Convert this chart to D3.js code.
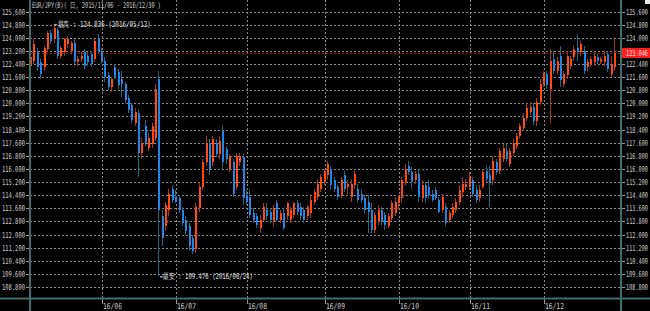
<!DOCTYPE html>
<html>
<head>
<meta charset="utf-8">
<script src="https://cdn.jsdelivr.net/npm/d3@7"></script>
<style>
    html, body { margin: 0; padding: 0; background: #000; }
    svg { display: block; }
    text { font-family: "DejaVu Sans Mono", monospace; font-size: 8px; fill: #cfcfcf; }
</style>
</head>
<body>
<div id="chart"></div>
<script>
// data (EUR/JPY daily, 2016/05/03 - 2016/12/30)
var dates = [
    "05/03","05/04","05/05","05/06","05/09","05/10","05/11","05/12","05/13","05/16","05/17","05/18","05/19","05/20","05/23","05/24","05/25","05/26","05/27","05/30","05/31",
    "06/01","06/02","06/03","06/06","06/07","06/08","06/09","06/10","06/13","06/14","06/15","06/16","06/17","06/20","06/21","06/22","06/23","06/24","06/27","06/28","06/29","06/30",
    "07/01","07/04","07/05","07/06","07/07","07/08","07/11","07/12","07/13","07/14","07/15","07/18","07/19","07/20","07/21","07/22","07/25","07/26","07/27","07/28","07/29",
    "08/01","08/02","08/03","08/04","08/05","08/08","08/09","08/10","08/11","08/12","08/15","08/16","08/17","08/18","08/19","08/22","08/23","08/24","08/25","08/26","08/29","08/30","08/31",
    "09/01","09/02","09/05","09/06","09/07","09/08","09/09","09/12","09/13","09/14","09/15","09/16","09/19","09/20","09/21","09/22","09/23","09/26","09/27","09/28","09/29","09/30",
    "10/03","10/04","10/05","10/06","10/07","10/10","10/11","10/12","10/13","10/14","10/17","10/18","10/19","10/20","10/21","10/24","10/25","10/26","10/27","10/28","10/31",
    "11/01","11/02","11/03","11/04","11/07","11/08","11/09","11/10","11/11","11/14","11/15","11/16","11/17","11/18","11/21","11/22","11/23","11/24","11/25","11/28","11/29","11/30",
    "12/01","12/02","12/05","12/06","12/07","12/08","12/09","12/12","12/13","12/14","12/15","12/16","12/19","12/20","12/21","12/22","12/23","12/26","12/27","12/28","12/29","12/30"
];

var opens = [
    122.3,122.6,123.1,122.5,122.2,123.3,124.3,123.9,124.5,122.9,123.1,123.6,123.2,123.7,122.5,122.7,123.1,122.9,123.0,122.7,124.0,
    123.2,122.6,121.7,121.0,122.2,121.9,121.5,121.2,120.3,119.9,118.8,119.4,117.0,118.6,117.3,117.5,117.9,121.5,113.1,112.5,113.5,114.8,
    114.3,114.2,113.5,112.9,112.5,111.8,111.1,113.6,114.9,116.4,117.5,116.4,117.6,116.9,118.3,117.2,116.0,116.4,114.9,116.4,116.7,
    114.4,114.3,113.3,113.1,112.4,112.9,113.5,113.4,112.8,113.9,112.9,113.3,113.1,112.9,113.2,113.9,113.7,113.5,113.1,113.3,114.0,114.3,114.8,
    115.2,115.6,116.0,115.3,114.9,114.4,115.6,114.9,114.3,115.0,114.8,114.5,114.2,114.0,113.5,112.3,112.8,113.5,113.2,112.5,113.0,113.3,
    113.9,114.2,115.2,116.2,115.8,115.3,115.7,114.2,115.0,114.9,114.5,114.7,114.1,113.5,113.7,112.9,113.2,113.5,114.0,114.6,114.9,
    114.9,115.3,114.7,114.2,114.9,115.9,115.6,115.3,116.4,115.9,116.6,117.1,116.3,117.0,117.4,118.0,118.5,119.1,119.5,119.8,118.9,120.1,
    121.2,121.8,120.9,122.7,122.0,122.9,121.2,121.7,122.3,122.8,123.4,123.1,123.2,122.2,122.4,122.5,122.8,122.5,122.5,123.0,121.8,122.2
];
var highs = [
    122.9,123.9,123.4,122.7,123.5,124.4,124.5,124.836,124.6,123.5,124.0,124.1,123.8,123.9,122.9,123.1,123.3,123.1,123.2,123.9,124.2,
    123.4,122.8,121.9,121.6,122.4,122.1,122.0,121.3,120.5,120.0,119.7,119.6,117.9,119.0,118.2,118.8,121.2,122.0,113.5,114.0,114.8,115.0,
    114.7,114.4,113.7,113.1,112.7,112.0,113.9,115.2,116.6,118.0,117.8,118.0,117.8,118.0,118.6,117.4,116.9,116.6,117.0,117.0,116.9,
    114.7,114.7,113.6,113.3,113.2,113.9,113.9,113.6,113.8,114.1,113.5,113.6,114.0,113.7,114.0,114.1,113.9,113.7,113.8,114.5,114.8,115.4,115.7,
    116.0,116.5,116.2,115.5,115.0,115.5,115.9,115.3,115.4,116.0,115.1,114.8,114.4,114.4,113.9,113.4,113.8,113.7,113.4,113.3,114.1,114.3,
    114.4,115.5,116.3,116.5,116.1,115.9,116.0,115.3,115.2,115.3,114.7,114.9,114.3,114.5,113.9,113.5,113.9,114.2,115.0,115.5,115.4,
    115.8,115.5,115.0,115.0,116.0,116.2,116.2,116.8,116.6,117.3,117.5,117.6,117.3,117.8,118.2,118.8,119.4,120.0,120.1,120.0,120.3,121.5,
    122.0,122.0,123.3,123.2,122.8,123.5,122.0,123.2,122.9,123.5,124.2,123.8,123.5,122.7,122.9,123.1,123.0,122.8,123.2,123.2,122.9,123.9
];
var lows = [
    121.9,122.4,122.0,121.5,122.0,123.1,123.6,123.7,122.7,122.7,122.9,123.4,123.0,122.4,122.3,122.5,122.1,122.3,122.2,122.5,123.0,
    122.4,121.3,120.8,120.7,121.5,120.9,120.4,120.0,119.4,118.8,118.6,115.5,116.6,117.4,117.1,117.3,117.7,109.476,111.3,112.2,113.1,113.9,
    113.9,113.3,112.5,112.0,111.0,110.8,110.9,113.4,114.7,116.2,115.6,116.2,116.7,116.6,116.0,116.3,115.8,114.3,114.7,116.2,113.8,
    113.8,113.0,112.7,112.4,112.1,112.8,112.9,112.7,112.5,112.8,112.7,112.3,112.9,112.7,113.0,113.2,112.9,112.7,112.9,113.0,113.8,114.1,114.6,
    115.0,115.3,114.7,114.6,114.1,114.2,114.6,114.5,114.0,114.8,114.0,113.9,113.3,112.1,112.1,112.1,112.6,112.6,112.3,112.4,112.8,113.1,
    113.5,114.0,115.0,115.6,114.8,115.1,114.0,114.0,113.9,114.2,114.0,114.1,113.3,113.3,112.5,112.7,113.0,113.3,113.8,114.2,114.7,
    114.7,114.3,113.9,114.0,114.8,115.2,113.7,115.0,115.6,115.7,116.4,116.4,116.1,116.8,117.2,117.8,118.3,118.9,119.3,118.7,118.6,119.9,
    121.0,120.9,118.8,121.8,121.8,121.0,121.0,121.5,122.1,122.6,122.6,122.9,121.8,121.9,122.2,122.3,122.4,122.4,122.3,121.9,121.6,122.0
];
var closes = [
    122.8,123.6,122.2,121.8,123.4,124.3,123.8,124.6,122.9,123.4,123.9,123.9,123.7,122.5,122.7,122.9,122.3,122.5,122.4,123.8,123.2,
    122.6,121.6,121.0,121.5,121.6,121.1,121.2,120.2,119.6,119.0,119.5,117.0,117.6,117.6,117.9,118.6,120.9,113.5,111.8,113.8,114.5,114.1,
    114.0,113.5,112.7,112.2,111.3,111.0,113.7,114.9,116.4,117.6,116.0,117.8,116.9,117.7,116.4,116.6,116.7,114.5,116.8,116.8,114.2,
    114.0,113.2,112.9,112.6,112.9,113.7,113.1,112.9,113.6,112.9,113.3,112.4,113.9,113.5,113.9,113.4,113.1,112.9,113.7,114.1,114.6,115.1,115.5,
    115.9,116.3,115.0,114.8,114.3,115.3,114.8,115.1,115.1,115.7,114.1,114.1,113.5,113.4,112.3,113.2,113.5,112.8,112.6,113.1,113.9,114.0,
    114.2,115.3,116.0,115.8,115.2,115.7,114.3,115.0,114.2,114.4,114.1,114.2,113.4,114.3,112.7,113.3,113.7,114.0,114.7,115.1,115.1,
    115.5,114.5,114.1,114.7,115.8,115.4,115.2,116.5,115.8,117.1,117.3,116.6,117.1,117.6,118.0,118.6,119.1,119.7,119.8,118.9,120.1,121.2,
    121.8,121.1,122.6,122.0,122.6,121.4,121.8,122.9,122.7,123.3,123.1,123.6,122.0,122.5,122.7,122.9,122.6,122.7,122.9,122.1,122.4,123.046
];

var yTicks = [108.8,109.6,110.4,111.2,112.0,112.8,113.6,114.4,115.2,116.0,116.8,117.6,118.4,119.2,120.0,120.8,121.6,122.4,123.2,124.0,124.8,125.6];
var monthTicks = ["06/01","07/01","08/01","09/01","10/03","11/01","12/01"];
var monthLabels = ["16/06","16/07","16/08","16/09","16/10","16/11","16/12"];
var title = "EUR/JPY(B)( 日, 2015/11/06 - 2016/12/30 )";

// layout
var W = 650, H = 311;
var plot = { left: 30, right: 621, top: 0, bottom: 298 };

var UP_BODY = "#ff4a14", UP_WICK = "#a3381a",
    DN_BODY = "#2386e6", DN_WICK = "#1f6a7c",
    AXIS = "#3f6e6e", GRID = "#8a8a8a";

var data = dates.map(function(d, i) {
    return { date: d, o: opens[i], h: highs[i], l: lows[i], c: closes[i] };
});

var svg = d3.select("#chart")
    .append("svg")
        .attr("width", W)
        .attr("height", H);

svg.append("rect")
    .attr("width", W)
    .attr("height", H)
    .attr("fill", "#000");

var x = d3.scalePoint()
    .domain(dates)
    .range([31, 615]);

var y = d3.scaleLinear()
    .domain([108.8, 125.6])
    .range([287, 11.5]);

var py = function(v) { return Math.round(y(v)) + 0.5; };
var px = function(d) { return Math.round(x(d)); };

// narrow bitmap-like text: squeeze horizontally with a transform
var label = function(parent, str, tx, ty, width, color) {
    var t = parent.append("text")
        .attr("x", 0)
        .attr("y", 0)
        .text(str);
    if (color) t.style("fill", color);
    var sx = width / t.node().getComputedTextLength();
    t.attr("transform", "translate(" + tx + "," + ty + ") scale(" + sx + ",1)");
    return t;
};

var last = data[data.length - 1];
var tagY = Math.round(y(last.c));

// horizontal grid
svg.append("g")
    .selectAll("line")
    .data(yTicks)
    .enter().append("line")
        .attr("x1", plot.left)
        .attr("x2", plot.right)
        .attr("y1", py)
        .attr("y2", py)
        .attr("stroke", GRID)
        .attr("stroke-dasharray", "2,2");

// month grid
var months = svg.append("g");
months.selectAll("line.grid")
    .data(monthTicks)
    .enter().append("line")
        .attr("class", "grid")
        .attr("x1", function(d) { return px(d) + 0.5; })
        .attr("x2", function(d) { return px(d) + 0.5; })
        .attr("y1", 0)
        .attr("y2", plot.bottom)
        .attr("stroke", GRID)
        .attr("stroke-dasharray", "2,2");

months.selectAll("line.tick")
    .data(monthTicks)
    .enter().append("line")
        .attr("class", "tick")
        .attr("x1", function(d) { return px(d) + 0.5; })
        .attr("x2", function(d) { return px(d) + 0.5; })
        .attr("y1", plot.bottom)
        .attr("y2", plot.bottom + 6)
        .attr("stroke", "#9a9a9a");

monthTicks.forEach(function(d, i) {
    label(months, monthLabels[i], px(d) + 1, 309, 19);
});

// last price line
svg.append("line")
    .attr("x1", plot.left)
    .attr("x2", plot.right)
    .attr("y1", tagY + 0.5)
    .attr("y2", tagY + 0.5)
    .attr("stroke", "#b80000")
    .attr("stroke-dasharray", "2,2");

// candles
var candles = svg.append("g")
    .selectAll("g")
    .data(data)
    .enter().append("g");

candles.append("line")
    .attr("x1", function(d) { return px(d.date) - 0.5; })
    .attr("x2", function(d) { return px(d.date) - 0.5; })
    .attr("y1", function(d) { return Math.round(y(d.h)); })
    .attr("y2", function(d) { return Math.round(y(d.l)); })
    .attr("stroke", function(d) { return d.c >= d.o ? UP_WICK : DN_WICK; });

candles.append("rect")
    .attr("x", function(d) { return px(d.date) - 1; })
    .attr("width", 2)
    .attr("y", function(d) { return Math.round(y(Math.max(d.o, d.c))); })
    .attr("height", function(d) { return Math.max(1, Math.round(y(Math.min(d.o, d.c))) - Math.round(y(Math.max(d.o, d.c)))); })
    .attr("fill", function(d) { return d.c >= d.o ? UP_BODY : DN_BODY; });

// axes frame
svg.append("line")
    .attr("x1", 0).attr("x2", W)
    .attr("y1", plot.bottom + 0.5).attr("y2", plot.bottom + 0.5)
    .attr("stroke", AXIS).attr("stroke-width", 2);

[plot.left, plot.right].forEach(function(xx) {
    svg.append("line")
        .attr("x1", xx).attr("x2", xx)
        .attr("y1", 0).attr("y2", H)
        .attr("stroke", AXIS).attr("stroke-width", 2);
});

// y labels, both sides (right one is hidden under the price tag)
var fmt = d3.format(".3f");
var yl = svg.append("g");
yl.selectAll("line.l")
    .data(yTicks)
    .enter().append("line")
        .attr("class", "l")
        .attr("x1", 26).attr("x2", plot.left - 1)
        .attr("y1", py).attr("y2", py)
        .attr("stroke", "#9a9a9a");
yl.selectAll("line.r")
    .data(yTicks)
    .enter().append("line")
        .attr("class", "r")
        .attr("x1", plot.right + 1).attr("x2", 625)
        .attr("y1", py).attr("y2", py)
        .attr("stroke", "#9a9a9a");
yTicks.forEach(function(d) {
    var ty = Math.round(y(d)) + 3;
    label(yl, fmt(d), 2, ty, 23);
    if (Math.abs(y(d) - tagY) > 8) label(yl, fmt(d), 626, ty, 22);
});

// current price tag
svg.append("rect")
    .attr("x", plot.right + 1)
    .attr("y", tagY - 5)
    .attr("width", W - plot.right - 1)
    .attr("height", 10)
    .attr("fill", "#ff1e1e");
label(svg, fmt(last.c), 626, tagY + 3, 22, "#ffe0e0");

// high / low notes
var hi = data[d3.maxIndex(data, function(d) { return d.h; })],
    lo = data[d3.minIndex(data, function(d) { return d.l; })];

label(svg, "←最高 : " + fmt(hi.h) + " (2016/" + hi.date + ")",
    px(hi.date) - 1, Math.round(y(hi.h)) + 3, 97, "#e0e0e0");
label(svg, "←最安 : " + fmt(lo.l) + " (2016/" + lo.date + ")",
    px(lo.date) + 1, Math.round(y(lo.l)) + 3, 93, "#e0e0e0");

// title
label(svg, title, 32, 8, 129);

svg.append("rect")
    .attr("x", 645).attr("y", 0)
    .attr("width", 5).attr("height", 4)
    .attr("fill", "#e8e8e8");
</script>
</body>
</html>
